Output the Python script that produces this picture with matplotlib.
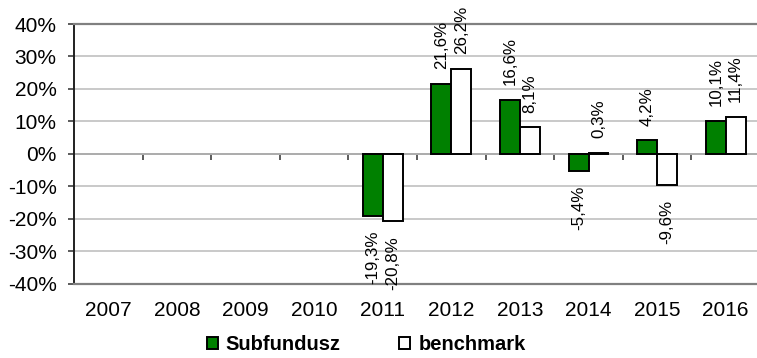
import matplotlib
matplotlib.use("Agg")
import matplotlib.pyplot as plt
import numpy as np
from matplotlib.patches import Patch

plt.rcParams['font.family'] = ['Liberation Sans', 'DejaVu Sans']

# roczne stopy zwrotu w %
years = ['2007', '2008', '2009', '2010', '2011', '2012', '2013', '2014', '2015', '2016']
subfundusz = [np.nan, np.nan, np.nan, np.nan, -19.3, 21.6, 16.6, -5.4, 4.2, 10.1]
benchmark = [np.nan, np.nan, np.nan, np.nan, -20.8, 26.2, 8.1, 0.3, -9.6, 11.4]

GREEN = '#008000'

fig = plt.figure(figsize=(7.57, 3.58), dpi=100)
ax = fig.add_axes([74 / 757, 1 - 283.5 / 358, 686 / 757, 259.5 / 358])

x = np.arange(len(years))
w = 0.29
bars1 = ax.bar(x - w / 2, subfundusz, w, color=GREEN, edgecolor='black', linewidth=1.4, zorder=3)
bars2 = ax.bar(x + w / 2, benchmark, w, color='white', edgecolor='black', linewidth=1.4, zorder=3)


def fmt(v):
    return f"{v:.1f}%".replace('.', ',')


for rects, vals in ((bars1, subfundusz), (bars2, benchmark)):
    for r, v in zip(rects, vals):
        if np.isnan(v):
            continue
        xc = r.get_x() + r.get_width() / 2
        if v >= 0:
            ax.annotate(fmt(v), (xc, v), xytext=(0, 10.5), textcoords='offset points',
                        rotation=90, ha='center', va='bottom', fontsize=12.2)
        else:
            ax.annotate(fmt(v), (xc, v), xytext=(0, -10.5), textcoords='offset points',
                        rotation=90, ha='center', va='top', fontsize=12.2)

ax.set_xlim(-0.5, len(years) - 0.5)
ax.set_ylim(-40, 40)
yt = np.arange(-40, 41, 10)
ax.set_yticks(yt)
ax.set_yticklabels([f"{v}%" for v in yt])
ax.tick_params(axis='y', direction='out', length=4.5, width=1.2, color='#404040',
               labelsize=15, pad=8)

ax.set_xticks(x)
ax.set_xticklabels(years)
ax.tick_params(axis='x', length=0, labelsize=15, pad=12.5)

ax.yaxis.grid(True, color='#c0c0c0', linewidth=1.2)
ax.set_axisbelow(True)

for s in ('top', 'bottom'):
    ax.spines[s].set_color('#808080')
    ax.spines[s].set_linewidth(1.6)
ax.spines['right'].set_visible(False)
ax.spines['left'].set_color('#202020')
ax.spines['left'].set_linewidth(1.4)

# oś kategorii na poziomie 0%
zero = ax.secondary_xaxis(0.5)
zero.set_alignment('bottom')
zero.set_xticks(np.arange(0.5, len(years) - 1, 1.0))
zero.set_xticklabels([])
zero.tick_params(axis='x', direction='out', length=4.5, width=1.2, color='#404040')
for s in ('top', 'bottom'):
    zero.spines[s].set_color('#404040')
    zero.spines[s].set_linewidth(1.3)

handles = [Patch(facecolor=GREEN, edgecolor='black', linewidth=1.4, label='Subfundusz'),
           Patch(facecolor='white', edgecolor='black', linewidth=1.4, label='benchmark')]
fig.legend(handles=handles, loc='center', bbox_to_anchor=(366 / 757, 1 - 345 / 358),
           ncol=2, frameon=False, prop={'weight': 'bold', 'size': 14.5},
           handlelength=0.55, handleheight=0.55, handletextpad=0.4, columnspacing=2.9)

fig.savefig('out.png', dpi=100)
